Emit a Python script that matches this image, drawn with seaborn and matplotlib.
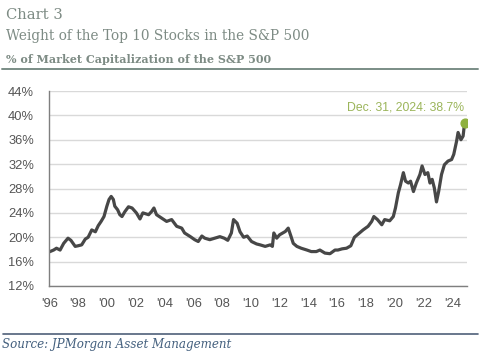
#!/usr/bin/env python
import numpy as np
import pandas as pd
import matplotlib.pyplot as plt
import seaborn as sns

sns.set_style("white")
plt.rcParams["font.family"] = ["Liberation Sans", "DejaVu Sans"]

# weight of top 10 stocks, % of S&P 500 market cap
years = [1996.0, 1996.3, 1996.5, 1996.75, 1997.0, 1997.3, 1997.5, 1997.8, 1998.0, 1998.25,
         1998.5, 1998.7, 1998.95, 1999.2, 1999.4, 1999.6, 1999.8, 2000.0, 2000.15, 2000.3,
         2000.45, 2000.55, 2000.75, 2000.9, 2001.05, 2001.25, 2001.5, 2001.75, 2002.05, 2002.3,
         2002.5, 2002.9, 2003.1, 2003.27, 2003.45, 2003.8, 2004.15, 2004.5, 2004.85, 2005.2,
         2005.4, 2005.8, 2006.1, 2006.35, 2006.6, 2006.8, 2007.15, 2007.5, 2007.85, 2008.15,
         2008.4, 2008.65, 2008.8, 2009.05, 2009.25, 2009.5, 2009.75, 2010.05, 2010.4, 2010.65,
         2011.0, 2011.35, 2011.5, 2011.6, 2011.8, 2012.0, 2012.4, 2012.6, 2012.8, 2012.95,
         2013.2, 2013.5, 2013.9, 2014.2, 2014.55, 2014.8, 2015.15, 2015.5, 2015.85, 2016.05,
         2016.35, 2016.65, 2016.95, 2017.2, 2017.45, 2017.8, 2018.15, 2018.4, 2018.55, 2018.8,
         2019.1, 2019.3, 2019.65, 2019.9, 2020.05, 2020.25, 2020.4, 2020.6, 2020.75, 2020.95,
         2021.1, 2021.3, 2021.5, 2021.75, 2021.9, 2022.1, 2022.3, 2022.45, 2022.6, 2022.75,
         2022.9, 2023.05, 2023.25, 2023.45, 2023.7, 2023.95, 2024.1, 2024.3, 2024.4, 2024.6,
         2024.75, 2024.85]
weights = [17.6, 17.9, 18.2, 17.9, 19.0, 19.85, 19.5, 18.5, 18.6, 18.75,
           19.7, 20.0, 21.2, 20.9, 21.9, 22.6, 23.4, 25.1, 26.2, 26.7,
           26.2, 25.1, 24.5, 23.7, 23.4, 24.2, 25.0, 24.8, 24.0, 23.0,
           24.0, 23.7, 24.2, 24.8, 23.7, 23.15, 22.6, 22.9, 21.8, 21.5,
           20.7, 20.1, 19.6, 19.3, 20.2, 19.85, 19.6, 19.85, 20.1, 19.85,
           19.5, 20.7, 22.9, 22.3, 20.9, 20.0, 20.2, 19.3, 18.9, 18.75,
           18.5, 18.75, 18.5, 20.7, 19.85, 20.4, 20.95, 21.5, 20.1, 19.0,
           18.5, 18.2, 17.9, 17.65, 17.65, 17.9, 17.4, 17.3, 17.9, 17.9,
           18.1, 18.2, 18.6, 20.0, 20.5, 21.2, 21.8, 22.6, 23.4, 22.9,
           22.05, 22.9, 22.7, 23.4, 24.8, 27.3, 28.6, 30.6, 29.2, 28.9,
           29.2, 27.5, 28.9, 30.3, 31.7, 30.3, 30.6, 28.9, 29.5, 28.1,
           25.8, 27.5, 30.3, 31.9, 32.5, 32.75, 33.6, 35.8, 37.2, 36.0,
           36.6, 38.7]

tick_years = list(range(1996, 2025, 2))
tick_labels = ["'" + str(y)[2:] for y in tick_years]
y_ticks = list(range(12, 45, 4))
y_labels = [f"{v}%" for v in y_ticks]
last_label = "Dec. 31, 2024: 38.7%"

df = pd.DataFrame({"year": years, "weight": weights})

fig = plt.figure(figsize=(4.8, 3.54), dpi=100)
ax = fig.add_axes([0.1027, 0.1921, 0.8696, 0.5508])

sns.lineplot(data=df, x="year", y="weight", ax=ax, color="#474747", linewidth=2.3)
ax.scatter([years[-1]], [weights[-1]], s=40, color="#8fb13f", zorder=5)
ax.text(years[-1] - 0.05, weights[-1] + 2.6, last_label, ha="right", va="center",
        color="#9bb55a", fontsize=8.8)

ax.set_xlim(1996, 2025)
ax.set_ylim(12, 44)
ax.set_xticks(tick_years)
ax.set_xticklabels(tick_labels)
ax.set_yticks(y_ticks)
ax.set_yticklabels(y_labels)
ax.set_xlabel("")
ax.set_ylabel("")
ax.grid(axis="y", color="#d9d9d9", linewidth=1.0)
ax.set_axisbelow(True)
for side in ["top", "right"]:
    ax.spines[side].set_visible(False)
for side in ["left", "bottom"]:
    ax.spines[side].set_color("#7f7f7f")
    ax.spines[side].set_linewidth(1.0)
ax.tick_params(axis="x", length=4, width=1, color="#7f7f7f", direction="out",
               labelsize=9.3, labelcolor="#555555", pad=5)
ax.tick_params(axis="y", length=0, labelsize=9.3, labelcolor="#555555", pad=11)

# header
fig.text(0.0125, 1 - 19 / 354, "Chart 3", fontsize=10.6, family="DejaVu Serif",
         color="#7d8b84", va="baseline")
fig.text(0.0125, 1 - 40 / 354, "Weight of the Top 10 Stocks in the S&P 500", fontsize=9.8,
         family="DejaVu Serif", color="#7d8b84", va="baseline")
fig.text(0.0125, 1 - 63 / 354, "% of Market Capitalization of the S&P 500", fontsize=8.0,
         family="DejaVu Serif", weight="bold", color="#7d8b84", va="baseline")
fig.add_artist(plt.Line2D([0.004, 0.996], [1 - 68.5 / 354] * 2, color="#7a8d86", linewidth=1.4))

# footer
fig.add_artist(plt.Line2D([0.006, 0.996], [1 - 333.5 / 354] * 2, color="#4f6079", linewidth=1.2))
fig.text(0.004, 1 - 348 / 354, "Source: JPMorgan Asset Management", fontsize=8.6,
         family="DejaVu Serif", style="italic", color="#44607e", va="baseline")

fig.savefig("out.png", dpi=100)
